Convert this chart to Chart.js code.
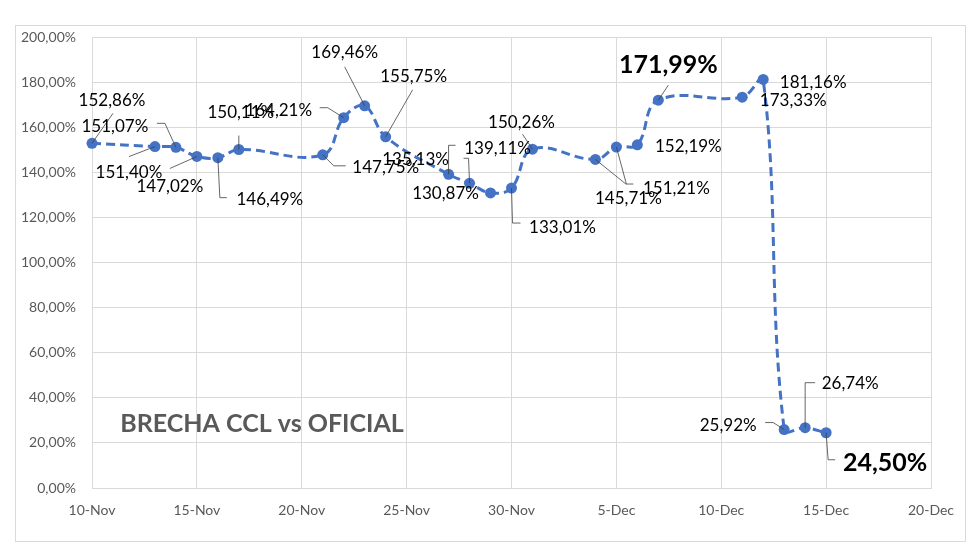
<!DOCTYPE html>
<html>
<head>
<meta charset="utf-8">
<script src="https://cdn.jsdelivr.net/npm/chart.js@4/dist/chart.umd.min.js"></script>
<style>
  html, body { margin: 0; padding: 0; background: #fff; }
  canvas { display: block; }
</style>
</head>
<body>
<canvas id="grafico" width="980" height="557"></canvas>
<script>
// datos
const fechas = ['10-Nov', '13-Nov', '14-Nov', '15-Nov', '16-Nov', '17-Nov', '21-Nov', '22-Nov',
  '23-Nov', '24-Nov', '27-Nov', '28-Nov', '29-Nov', '30-Nov', '1-Dec', '4-Dec', '5-Dec',
  '6-Dec', '7-Dec', '11-Dec', '12-Dec', '13-Dec', '14-Dec', '15-Dec'];
const brecha = [152.86, 151.40, 151.07, 147.02, 146.49, 150.11, 147.75, 164.21,
  169.46, 155.75, 139.11, 135.13, 130.87, 133.01, 150.26, 145.71, 151.21,
  152.19, 171.99, 173.33, 181.16, 25.92, 26.74, 24.50];
const ticksX = ['10-Nov', '15-Nov', '20-Nov', '25-Nov', '30-Nov', '5-Dec', '10-Dec', '15-Dec', '20-Dec'];
const destacados = ['7-Dec', '15-Dec'];
const titulo = 'BRECHA CCL vs OFICIAL';

// posicion de cada etiqueta respecto a su punto: [dx, dy, lineaGuia]
const etiquetas = [
  [20, -43, [[21, -30]]],
  [-26, 26, [[-26, 10]]],
  [-61, -21, [[-11, -24], [-19, -24]]],
  [-27, 30, [[-27, 12]]],
  [52, 42, [[2, 40], [9, 40]]],
  [2, -37, [[0, -14]]],
  [63, 13, [[11, 11], [23, 11]]],
  [-65, -7, [[-16, -10], [-24, -10]]],
  [-20, -53, [[-20, -39]]],
  [28, -60, [[27, -47]]],
  [49, -26, [[0, -29], [7, -29]]],
  [-54, -24, [[-1, -25], [-6, -25]]],
  [-45, 1, null],
  [51, 39, [[1, 35], [9, 35]]],
  [-11, -27, [[-10, -15]]],
  [33, 39, [[31, 25]]],
  [60, 41, [[10, 37], [17, 37]]],
  [51, 2, null],
  [10, -35, [[10, -15]]],
  [51, 3, null],
  [50, 3, null],
  [-56, -4, [[-11, -7], [-19, -7]]],
  [45, -44, [[0, -45], [10, -45]]],
  [59, 30, [[2, 27], [9, 27]]]
];

const meses = { Nov: 0, Dec: 30 };
function diaDesde10Nov(f) {
  const [d, m] = f.split('-');
  return Number(d) + meses[m] - 10;
}
function pct(v) {
  return v.toFixed(2).replace('.', ',') + '%';
}

const puntos = fechas.map((f, i) => ({ x: diaDesde10Nov(f), y: brecha[i] }));

const marco = {
  id: 'marco',
  beforeDraw(chart) {
    const c = chart.ctx;
    c.save();
    c.strokeStyle = '#d9d9d9';
    c.lineWidth = 1;
    c.strokeRect(15.5, 25.5, 950, 516);
    c.restore();
  },
  beforeDatasetsDraw(chart) {
    const c = chart.ctx;
    c.save();
    c.font = 'bold 25px Lato';
    c.fillStyle = '#595959';
    c.textAlign = 'center';
    c.textBaseline = 'middle';
    c.fillText(titulo, 262, 424);
    c.restore();
  }
};

const rotulos = {
  id: 'rotulos',
  afterDatasetsDraw(chart) {
    const c = chart.ctx;
    const meta = chart.getDatasetMeta(0);
    c.save();
    meta.data.forEach((p, i) => {
      const [dx, dy, guia] = etiquetas[i];
      if (guia) {
        c.beginPath();
        c.strokeStyle = '#404040';
        c.lineWidth = 0.8;
        c.moveTo(p.x, p.y);
        guia.forEach(g => c.lineTo(p.x + g[0], p.y + g[1]));
        c.stroke();
      }
      const grande = destacados.includes(fechas[i]);
      c.font = grande ? 'bold 25px Lato' : '17px Lato';
      c.fillStyle = '#000';
      c.textAlign = 'center';
      c.textBaseline = 'middle';
      c.fillText(pct(brecha[i]), p.x + dx, p.y + dy);
    });
    c.restore();
  }
};

new Chart(document.getElementById('grafico'), {
  type: 'line',
  data: {
    datasets: [{
      data: puntos,
      borderColor: '#4472C4',
      backgroundColor: '#4472C4',
      borderWidth: 3,
      borderDash: [9, 5],
      tension: 0.4,
      pointRadius: 5.5,
      pointBorderWidth: 0,
      pointBackgroundColor: '#4472C4',
      fill: false,
      clip: false
    }]
  },
  options: {
    responsive: false,
    animation: false,
    devicePixelRatio: 1,
    layout: { padding: { left: 0, top: 37, right: 49, bottom: 0 } },
    plugins: {
      legend: { display: false },
      tooltip: { enabled: false }
    },
    scales: {
      x: {
        type: 'linear',
        min: 0,
        max: 40,
        afterFit: s => { s.height = 69; },
        ticks: {
          stepSize: 5,
          padding: 14,
          color: '#595959',
          font: { family: 'Lato', size: 14 },
          maxRotation: 0,
          callback: v => ticksX[v / 5]
        },
        grid: { color: '#d9d9d9', drawTicks: false },
        border: { color: '#d9d9d9' }
      },
      y: {
        min: 0,
        max: 200,
        afterFit: s => { s.width = 92; },
        ticks: {
          stepSize: 20,
          padding: 16,
          color: '#595959',
          font: { family: 'Lato', size: 14 },
          callback: v => pct(v)
        },
        grid: { color: '#d9d9d9', drawTicks: false },
        border: { color: '#d9d9d9' }
      }
    }
  },
  plugins: [marco, rotulos]
});
</script>
</body>
</html>
